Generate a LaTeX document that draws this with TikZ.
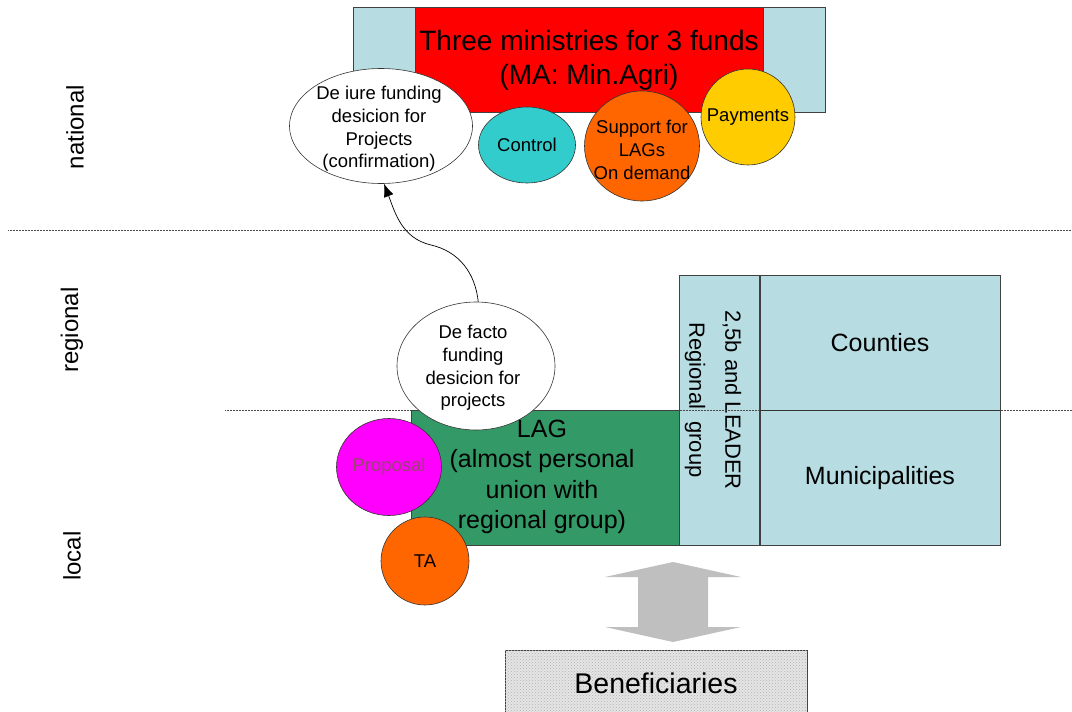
\documentclass[tikz,border=0pt]{standalone}
\usepackage{fontspec}
\setmainfont{Liberation Sans}
\usepackage{xcolor}
\usepackage{tikz}
\usetikzlibrary{shapes, arrows.meta, positioning, calc, patterns}

\definecolor{paleblue}{RGB}{183,221,227}
\definecolor{laggreen}{RGB}{51,153,102}
\definecolor{ctrlcyan}{RGB}{51,204,204}
\definecolor{suporange}{RGB}{255,102,0}
\definecolor{payyellow}{RGB}{255,204,0}
\definecolor{propmagenta}{RGB}{255,0,255}

\begin{document}
\begin{tikzpicture}[
        x=1pt, y=-1pt,
        box/.style={rectangle, draw=black!75, line width=0.6pt, inner sep=0pt},
        blob/.style={ellipse, draw=black!80, line width=0.6pt, inner sep=0pt},
        small/.style={align=center, font=\fontsize{18.5}{22.7}\selectfont},
        big/.style={align=center, font=\fontsize{25}{30.5}\selectfont},
        level/.style={rotate=90, font=\fontsize{24}{28}\selectfont},
        sep/.style={densely dotted, line width=0.5pt, black!70}
    ]

    \useasboundingbox (0,0) rectangle (1072,712);
    \clip (0,0) rectangle (1072,712);

    % Levels
    \node[level] (nat) at (75,127) {national};
    \node[level] (reg) at (72,330) {regional};
    \node[level] (loc) at (72,556) {local};

    \coordinate (s1a) at (8,230);
    \coordinate (s1b) at (1072,230);
    \draw[sep] (s1a) -- (s1b);

    % National
    \node[box, fill=paleblue, minimum width=472, minimum height=105] (minbg) at (589,60) {};
    \node[box, fill=red, minimum width=348, minimum height=105, align=center,
          font=\fontsize{28}{34}\selectfont] (minis) at (589,60) {Three ministries for 3 funds\\(MA: Min.Agri)};

    \node[blob, fill=white, minimum width=183, minimum height=115] (deiure) at (381,126) {};
    \node[small] at (379,129) {De iure funding\\desicion for\\Projects\\(confirmation)};
    \node[blob, fill=ctrlcyan, minimum width=97, minimum height=76] (control) at (527,145) {};
    \node[small] at (control) {Control};
    \node[blob, fill=suporange, minimum width=115, minimum height=110] (support) at (642,146) {};
    \node[small] at (642,150) {Support for\\LAGs\\On demand};
    \node[blob, fill=payyellow, minimum width=94, minimum height=96] (payments) at (748,117) {};
    \node[small] at (payments) {Payments};

    % Regional / local
    \node[box, fill=paleblue, minimum width=240, minimum height=135, big] (counties) at (880,342.5) {Counties};
    \node[box, fill=paleblue, minimum width=240, minimum height=135, big, below=0pt of counties] (munis) {Municipalities};
    \node[box, fill=paleblue, minimum width=80, minimum height=270, anchor=north east] (regrp) at (counties.north west) {};
    \node[rotate=-90, align=center, font=\fontsize{22}{36}\selectfont] at (713,400) {2,5b and LEADER\\Regional~ group};

    \coordinate (s2a) at (225,410);
    \coordinate (s2b) at (1072,410);
    \draw[sep] (s2a) -- (s2b);
    \draw[line width=0.9pt, black!80] (counties.south west) -- (counties.south east);

    \node[box, fill=laggreen, minimum width=268, minimum height=135, anchor=south east] (lag) at (regrp.south west) {};
    \node[big] at (542,477) {LAG\\(almost personal\\union with\\regional group)};

    \node[blob, fill=white, minimum width=158, minimum height=128] (defacto) at (476,366) {};
    \node[small] at (473,368) {De facto\\funding\\desicion for\\projects};
    \node[blob, fill=propmagenta, minimum width=105, minimum height=97] (proposal) at (389,467) {};
    \node[small, text=magenta!55!black] at (proposal) {Proposal};
    \node[blob, fill=suporange, minimum width=88, minimum height=88] (ta) at (425,561) {};
    \node[small] at (ta) {TA};

    % Decision path
    \coordinate (bend) at (431,245);
    \draw[-{Latex[length=13pt, width=10pt]}, line width=0.7pt] (defacto.88) to[out=96, in=-13] (bend) to[out=167, in=-69] (deiure.-87);

    % Beneficiaries
    \coordinate (ud) at (673,602);
    \fill[gray!50] (ud) ++(0,-40) -- ++(68,15) -- ++(-33,0) -- ++(0,50) -- ++(33,0) -- ++(-68,15)
        -- ++(-68,-15) -- ++(33,0) -- ++(0,-50) -- ++(-33,0) -- cycle;
    \node[box, minimum width=302, minimum height=70, fill=gray!20,
          postaction={pattern=crosshatch dots, pattern color=gray!60}] (benef) at (656,685) {};
    \node[font=\fontsize{28.5}{32}\selectfont] at (656,683) {Beneficiaries};

\end{tikzpicture}
\end{document}
